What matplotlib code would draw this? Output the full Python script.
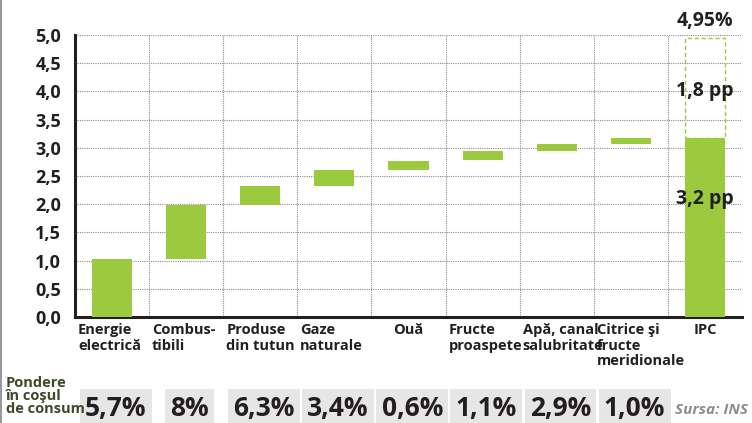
#waterfall of contributions to annual inflation (IPC), romanian labels

import numpy as np
import matplotlib.pyplot as plt
import matplotlib.transforms as mtransforms
from matplotlib.patches import Rectangle

#data
categories = ["Energie\nelectrică", "Combus-\ntibili", "Produse\ndin tutun", "Gaze\nnaturale",
              "Ouă", "Fructe\nproaspete", "Apă, canal\nsalubritate", "Citrice şi\nfructe\nmeridionale", "IPC"]
bar_bottom = [0.0, 1.03, 1.98, 2.33, 2.61, 2.78, 2.94, 3.06, 0.0]
bar_top = [1.03, 1.98, 2.33, 2.61, 2.77, 2.94, 3.06, 3.18, 3.18]
ipc_total = 4.95
weights = ["5,7%", "8%", "6,3%", "3,4%", "0,6%", "1,1%", "2,9%", "1,0%"]
yticks = np.arange(0, 5.01, 0.5)
ytick_labels = ["%.1f" % v for v in yticks]
ytick_labels = [s.replace(".", ",") for s in ytick_labels]

#style
green = "#9bca3e"
dark = "#231f20"
plt.rcParams['font.family'] = ['Open Sans', 'DejaVu Sans']
plt.rcParams['font.stretch'] = 'condensed'
plt.rcParams['font.weight'] = 'bold'

fig = plt.figure(figsize=(7.52, 4.23), dpi=100)
ax = fig.add_axes([75/752, 1 - 317/423, (742 - 75)/752, (317 - 35)/423])

x = np.arange(len(categories)) + 0.5
heights = np.array(bar_top) - np.array(bar_bottom)
ax.bar(x, heights, bottom=bar_bottom, width=0.54, color=green, zorder=3)

#dashed part of IPC bar
ax.add_patch(Rectangle((x[-1] - 0.27, bar_top[-1]), 0.54, ipc_total - bar_top[-1],
                       fill=False, edgecolor=green, linestyle=(0, (3, 2)), lw=1.0, zorder=3))

ax.set_xlim(0, len(categories))
ax.set_ylim(0, 5.0)
ax.set_yticks(yticks)
ax.set_yticklabels(ytick_labels, fontsize=13, color=dark)
ax.set_xticks(np.arange(1, len(categories) + 1))
ax.set_xticklabels([])
ax.tick_params(axis='both', length=0, pad=10)
ax.grid(True, color="#8c8c8c", linestyle=(0, (1, 1)), lw=0.8, zorder=0)

for s in ["top", "right"]:
    ax.spines[s].set_visible(False)
ax.spines["left"].set_linewidth(2.2)
ax.spines["bottom"].set_linewidth(2.2)
ax.spines["left"].set_color(dark)
ax.spines["bottom"].set_color(dark)

#annotations on IPC bar
ax.text(x[-1], ipc_total + 0.12, "4,95%", ha='center', va='bottom', fontsize=14, color=dark)
ax.text(x[-1], 4.0, "1,8 pp", ha='center', va='center', fontsize=14, color=dark)
ax.text(x[-1], 2.1, "3,2 pp", ha='center', va='center', fontsize=14, color=dark)

#category labels under the axis
tr = mtransforms.blended_transform_factory(ax.transData, fig.transFigure)
for i, lab in enumerate(categories):
    if lab in ("Ouă", "IPC"):
        ax.text(x[i], 1 - 323/423, lab, ha='center', va='top', fontsize=10.5,
                color=dark, transform=tr, linespacing=1.15)
    else:
        ax.text(i + 0.04, 1 - 323/423, lab, ha='left', va='top', fontsize=10.5,
                color=dark, transform=tr, linespacing=1.15)

#weights in the consumer basket
fig.text(6/752, 1 - 396/423, "Pondere\nîn coşul\nde consum", ha='left', va='center',
         fontsize=10.5, color="#3d4a2a", linespacing=0.95)
for i, w in enumerate(weights):
    ax.text(x[i] + 0.05, 1 - 408/423, w, ha='center', va='center', fontsize=19, color=dark,
            transform=tr, bbox=dict(boxstyle='square,pad=0.2', fc="#e6e6e6", ec='none'))
fig.text(748/752, 1 - 410/423, "Sursa: INS", ha='right', va='center', fontsize=11,
         style='italic', color="#8c8c8c")

#grey border on the left
fig.add_artist(plt.Line2D([1.5/752, 1.5/752], [0, 1], color="#9a9a9a", lw=1.5))

plt.savefig("out.png", dpi=100)
